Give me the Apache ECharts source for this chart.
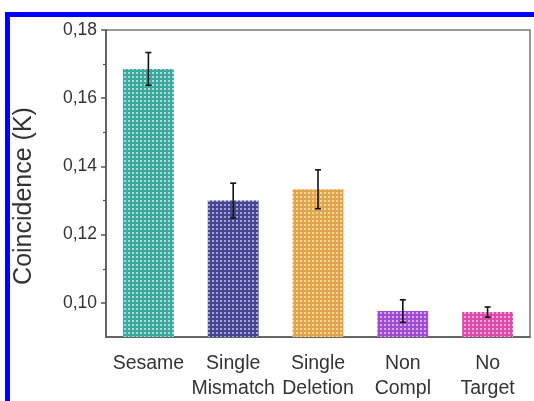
<!DOCTYPE html>
<html><head><meta charset="utf-8">
<script src="https://cdn.jsdelivr.net/npm/echarts@6/dist/echarts.min.js"></script>
<style>html,body{margin:0;padding:0;background:#fff}#c{width:534px;height:401px}</style>
</head><body><div id="c"></div>
<script>
const categories = ['Sesame', 'Single\nMismatch', 'Single\nDeletion', 'Non\nCompl', 'No\nTarget'];
const values = [0.1686, 0.1300, 0.1333, 0.0976, 0.0973];
const errors = [0.0048, 0.0051, 0.0057, 0.0033, 0.0015];
const majorTicks = [0.10, 0.12, 0.14, 0.16, 0.18];
const minorTicks = [0.11, 0.13, 0.15, 0.17];
const baseColors = ['#3fa89c', '#45458f', '#e0a64e', '#a04cd0', '#dc4aaa'];
const lightColors = ['#a6dcd6', '#a4a4d8', '#f6d49a', '#d8a8f2', '#f4a8dc'];

function pattern(base, light) {
  const c = document.createElement('canvas');
  c.width = 4; c.height = 4;
  const g = c.getContext('2d');
  g.fillStyle = base; g.fillRect(0, 0, 4, 4);
  g.fillStyle = light; g.fillRect(0, 0, 2, 2);
  return { image: c, repeat: 'repeat' };
}

const chart = echarts.init(document.getElementById('c'), null, { renderer: 'canvas' });
const font = 'Liberation Sans, Arial, sans-serif';
const fmt = v => v.toFixed(2).replace('.', ',');

chart.setOption({
  animation: false,
  textStyle: { fontFamily: font },
  graphic: [
    { type: 'rect', shape: { x: 5, y: 12, width: 529, height: 5 }, style: { fill: '#0000ff' }, z: 100 },
    { type: 'rect', shape: { x: 5, y: 12, width: 5, height: 389 }, style: { fill: '#0000ff' }, z: 100 }
  ],
  grid: { left: 106, top: 30, right: 4, bottom: 62, show: true, borderColor: '#777', borderWidth: 1.5, backgroundColor: 'transparent' },
  xAxis: [
    {
      type: 'category', data: categories, position: 'bottom',
      axisLine: { lineStyle: { color: '#555', width: 1.5 } },
      axisTick: { alignWithLabel: true, length: 6, lineStyle: { color: '#555', width: 1.5 } },
      axisLabel: { interval: 0, color: '#333', fontSize: 19.5, lineHeight: 25, margin: 14, fontFamily: font }
    },
    {
      type: 'category', data: categories, position: 'bottom', gridIndex: 0,
      axisLine: { show: false },
      axisTick: { alignWithLabel: false, length: 3, lineStyle: { color: '#555', width: 1.2 } },
      axisLabel: { show: false }
    }
  ],
  yAxis: [
    {
      type: 'value', min: 0.09, max: 0.18, interval: 0.01,
      name: 'Coincidence (K)', nameLocation: 'middle', nameGap: 69,
      nameTextStyle: { fontSize: 25, color: '#333', fontFamily: font, padding: [0, 25, 0, 0] },
      axisLine: { show: true, lineStyle: { color: '#555', width: 1.5 } },
      axisTick: { show: true, length: 5, customValues: majorTicks, lineStyle: { color: '#555', width: 1.5 } },
      axisLabel: { customValues: majorTicks, formatter: fmt, color: '#333', fontSize: 17.5, margin: 9, fontFamily: font },
      splitLine: { show: false }
    },
    {
      type: 'value', min: 0.09, max: 0.18, interval: 0.01, position: 'left',
      axisLine: { show: false },
      axisTick: { show: true, length: 3, customValues: minorTicks, lineStyle: { color: '#555', width: 1.2 } },
      axisLabel: { show: false },
      splitLine: { show: false }
    }
  ],
  series: [
    {
      type: 'bar', barWidth: '60%',
      data: values.map((v, i) => ({ value: v, itemStyle: { color: pattern(baseColors[i], lightColors[i]) } })),
      z: 2
    },
    {
      type: 'custom',
      data: values.map((v, i) => [i, v, errors[i]]),
      renderItem: function (params, api) {
        const i = api.value(0), v = api.value(1), e = api.value(2);
        const top = api.coord([i, v + e]);
        const bot = api.coord([i, v - e]);
        const w = 3;
        const st = { stroke: '#111', lineWidth: 1.6 };
        return {
          type: 'group', children: [
            { type: 'line', shape: { x1: top[0], y1: top[1], x2: bot[0], y2: bot[1] }, style: st },
            { type: 'line', shape: { x1: top[0] - w, y1: top[1], x2: top[0] + w, y2: top[1] }, style: st },
            { type: 'line', shape: { x1: bot[0] - w, y1: bot[1], x2: bot[0] + w, y2: bot[1] }, style: st }
          ]
        };
      },
      z: 5
    }
  ]
});
</script></body></html>
